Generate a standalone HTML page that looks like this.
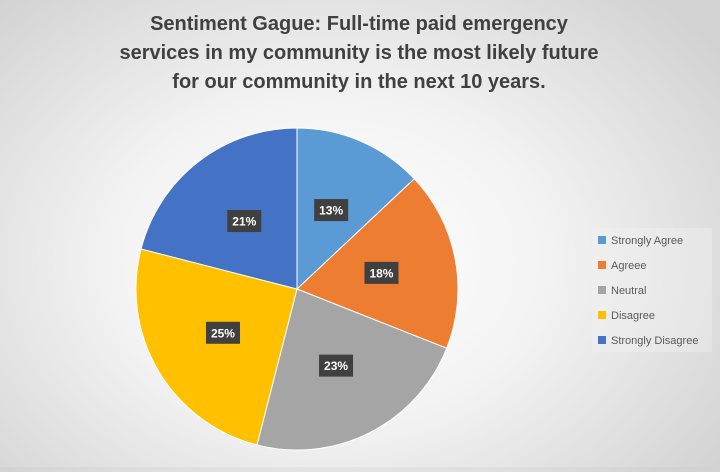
<!DOCTYPE html>
<html><head><meta charset="utf-8"><style>
html,body{margin:0;padding:0}
body{width:720px;height:467px;overflow:hidden;font-family:"Liberation Sans",sans-serif;
background:radial-gradient(ellipse 480px 360px at 330px 260px,#ffffff 0%,#f3f3f3 45%,#d2d2d2 100%);}
</style></head><body>
<svg id="chart" width="720" height="467" xmlns="http://www.w3.org/2000/svg">
<g font-family="Liberation Sans, sans-serif" font-weight="bold" font-size="20" fill="#404040" text-anchor="middle">
<text x="359" y="30">Sentiment Gague: Full-time paid emergency</text>
<text x="359" y="59">services in my community is the most likely future</text>
<text x="359" y="88">for our community in the next 10 years.</text>
</g>
<rect x="592" y="228" width="120" height="124" fill="#f4f4f4" opacity="0.35"/>
<g id="slices"></g>
<g id="labels"></g>
<g id="legend"></g>
</svg>
<script>
const categories=["Strongly Agree","Agreee","Neutral","Disagree","Strongly Disagree"];
const values=[13,18,23,25,21];
const colors=["#5b9bd5","#ed7d31","#a5a5a5","#ffc000","#4472c4"];
const NS="http://www.w3.org/2000/svg";
const cx=297,cy=289,r=161;
const total=values.reduce((a,b)=>a+b,0);
let a0=0;
const sg=document.getElementById('slices'),lg=document.getElementById('labels'),leg=document.getElementById('legend');
function pt(a,rr){return [cx+rr*Math.sin(a),cy-rr*Math.cos(a)];}
values.forEach((v,i)=>{
  const a1=a0+v/total*2*Math.PI;
  const p0=pt(a0,r),p1=pt(a1,r);
  const large=(a1-a0)>Math.PI?1:0;
  const p=document.createElementNS(NS,'path');
  p.setAttribute('d',`M${cx},${cy}L${p0[0]},${p0[1]}A${r},${r} 0 ${large} 1 ${p1[0]},${p1[1]}Z`);
  p.setAttribute('fill',colors[i]);p.setAttribute('stroke','#fff');p.setAttribute('stroke-width','1');
  
  
  sg.appendChild(p);
  const m=(a0+a1)/2,lp=pt(m,86);
  const g=document.createElementNS(NS,'g');
  
  
  const b=document.createElementNS(NS,'rect');
  b.setAttribute('x',lp[0]-17);b.setAttribute('y',lp[1]-11);b.setAttribute('width',34);b.setAttribute('height',22);
  b.setAttribute('fill','#404040');
  g.appendChild(b);
  const t=document.createElementNS(NS,'text');
  t.setAttribute('x',lp[0]);t.setAttribute('y',lp[1]+4.5);t.setAttribute('text-anchor','middle');
  t.setAttribute('fill','#fff');t.setAttribute('font-size','12');t.setAttribute('font-weight','bold');
  t.textContent=v+'%';
  g.appendChild(t);lg.appendChild(g);
  const e=document.createElementNS(NS,'g');
  
  
  const y=240+i*25;
  const s=document.createElementNS(NS,'rect');
  s.setAttribute('x',598);s.setAttribute('y',y-4);s.setAttribute('width',8);s.setAttribute('height',8);s.setAttribute('fill',colors[i]);
  e.appendChild(s);
  const lt=document.createElementNS(NS,'text');
  lt.setAttribute('x',611);lt.setAttribute('y',y+4);lt.setAttribute('font-size','11');lt.setAttribute('fill','#595959');
  lt.textContent=categories[i];
  e.appendChild(lt);leg.appendChild(e);
  a0=a1;
});
</script>
</body></html>
